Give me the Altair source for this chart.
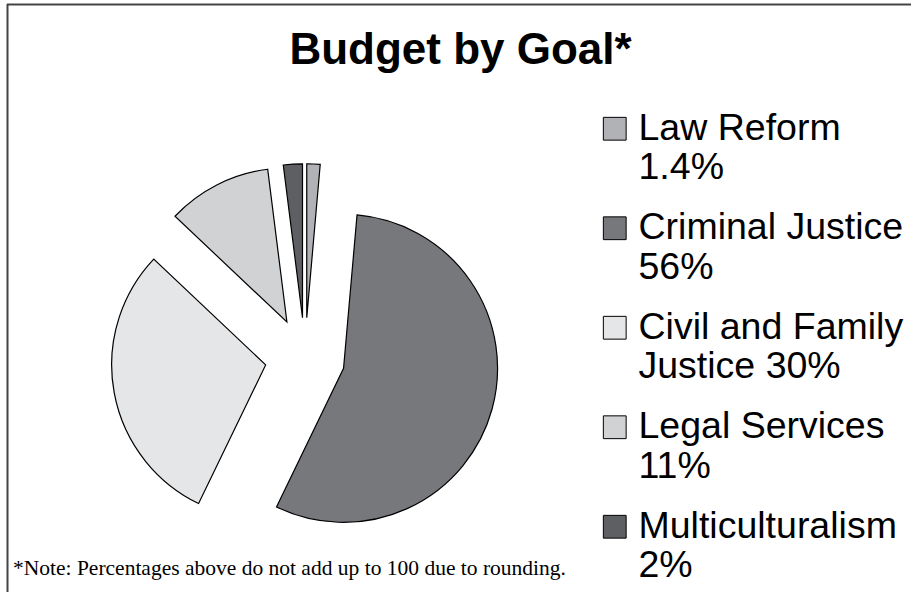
import altair as alt
import pandas as pd

# ---- data ----
goals = ["Law Reform", "Criminal Justice", "Civil and Family Justice", "Legal Services", "Multiculturalism"]
shares = [1.4, 56, 30, 11, 2]
legend_labels = [
    "Law Reform\n1.4%",
    "Criminal Justice\n56%",
    "Civil and Family\nJustice 30%",
    "Legal Services\n11%",
    "Multiculturalism\n2%",
]
slice_order = [0, 1, 2, 3, 4]
colors = ["#b1b2b6", "#77787c", "#e5e6e8", "#d1d2d4", "#5e5f63"]

title_text = "Budget by Goal*"
note_text = "*Note: Percentages above do not add up to 100 due to rounding."

# ---- layout ----
W, H = 911, 592
PIE_CX, PIE_CY = 305, 357.7   # pie centre in the window
RADIUS = 154
EXPLODE = 40

df = pd.DataFrame({"goal": goals, "share": shares, "label": legend_labels, "order": slice_order})

pie = (
    alt.Chart(df)
    .transform_joinaggregate(total="sum(share)")
    .transform_window(cum="sum(share)", sort=[alt.SortField("order")], frame=[None, 0])
    .transform_calculate(
        t0="(datum.cum - datum.share) / datum.total * 2 * PI",
        t1="datum.cum / datum.total * 2 * PI",
    )
    .transform_calculate(mid="(datum.t0 + datum.t1) / 2")
    .transform_calculate(
        ex=f"sin(datum.mid) * {EXPLODE}",
        ey=f"cos(datum.mid) * {EXPLODE}",
    )
    .mark_arc(radius=RADIUS, stroke="black", strokeWidth=1.2, strokeJoin="miter")
    .encode(
        theta=alt.Theta("t0:Q", scale=None, stack=None),
        theta2=alt.Theta2("t1:Q"),
        x=alt.X("ex:Q", scale=alt.Scale(domain=[-PIE_CX, W - PIE_CX], nice=False, zero=False), axis=None),
        y=alt.Y("ey:Q", scale=alt.Scale(domain=[-(H - PIE_CY), PIE_CY], nice=False, zero=False), axis=None),
        color=alt.Color(
            "label:N",
            scale=alt.Scale(domain=legend_labels, range=colors),
            legend=alt.Legend(
                title=None,
                orient="none",
                legendX=596,
                legendY=110,
                padding=0,
                symbolType="square",
                symbolSize=520,
                symbolStrokeColor="black",
                symbolStrokeWidth=1,
                symbolOpacity=1,
                labelFont="Liberation Sans",
                labelFontSize=37.5,
                labelColor="black",
                labelLimit=0,
                labelOffset=5,
                rowPadding=21.5,
                labelExpr="split(datum.label, '\\n')",
            ),
        ),
        order=alt.Order("order:Q"),
    )
)

frame_df = pd.DataFrame({"edge": [0]})
top_edge = alt.Chart(frame_df).mark_rule(color="#444444", strokeWidth=2).encode(
    x=alt.value(7), x2=alt.value(W), y=alt.value(4.5)
)
left_edge = alt.Chart(frame_df).mark_rule(color="#444444", strokeWidth=2).encode(
    x=alt.value(7.5), y=alt.value(4), y2=alt.value(H)
)

note = alt.Chart(pd.DataFrame({"note": [note_text]})).mark_text(
    align="left", baseline="alphabetic", font="Liberation Serif", fontSize=21.5, color="black"
).encode(text="note:N", x=alt.value(13), y=alt.value(575))

chart = (
    alt.layer(top_edge, left_edge, pie, note)
    .properties(
        width=W,
        height=H,
        autosize=alt.AutoSizeParams(type="none"),
        padding=0,
        title=alt.TitleParams(
            text=title_text,
            font="Liberation Sans",
            fontSize=44,
            fontWeight="bold",
            color="black",
            anchor="middle",
            frame="group",
            baseline="alphabetic",
            offset=-108,
            dx=5,
        ),
    )
    .configure_view(stroke=None)
)

chart.save("out.html", embed_options={"renderer": "svg", "actions": False})
